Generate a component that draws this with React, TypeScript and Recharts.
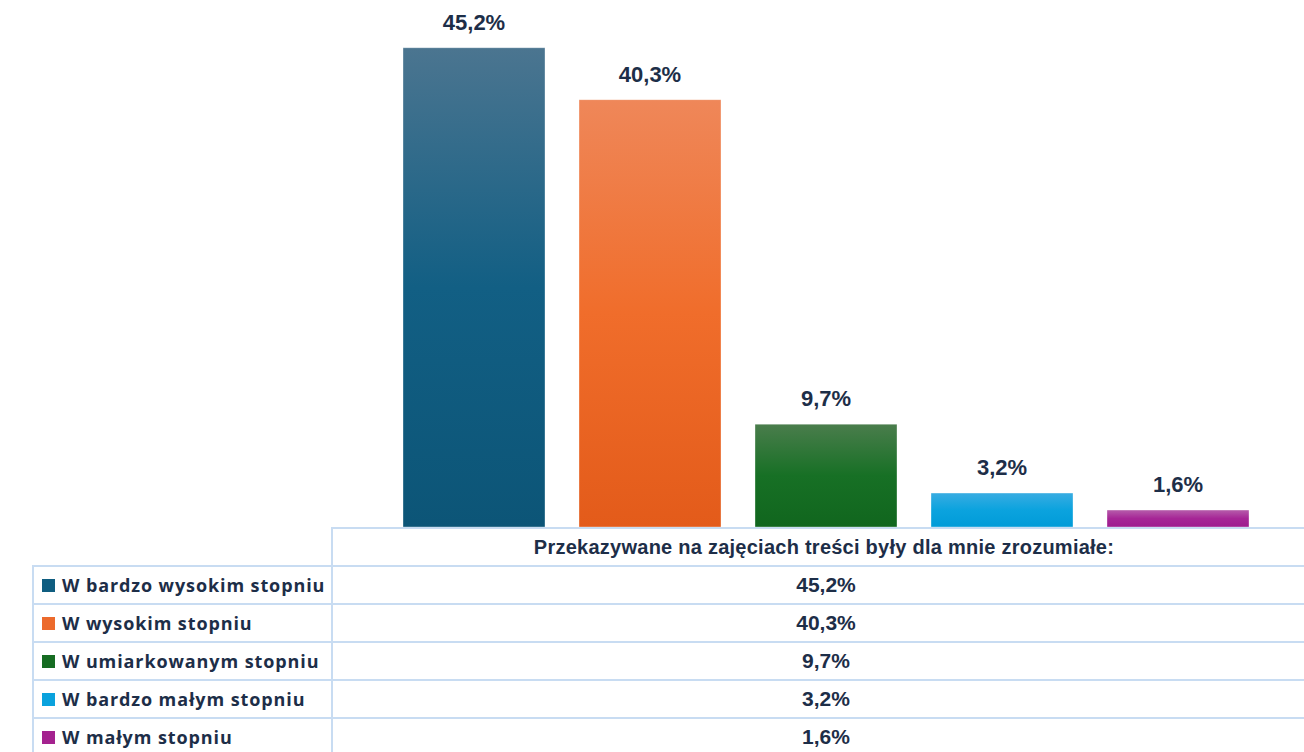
import { Bar, BarChart, LabelList, XAxis, YAxis } from "recharts";

const question = "Przekazywane na zajęciach treści były dla mnie zrozumiałe:";
const seriesKeys = ["s1", "s2", "s3", "s4", "s5"];
const seriesNames = [
  "W bardzo wysokim stopniu",
  "W wysokim stopniu",
  "W umiarkowanym stopniu",
  "W bardzo małym stopniu",
  "W małym stopniu",
];
const seriesValues = [45.2, 40.3, 9.7, 3.2, 1.6];
const seriesColors = ["#0f5d80", "#ec6a2c", "#166c22", "#0aa2dd", "#a4228f"];
// gradient stops: top, middle, bottom
const gradientStops = [
  ["#4b7590", "#125f84", "#0c5577"],
  ["#ef8759", "#f06d2b", "#e35b1a"],
  ["#4a7d4c", "#177025", "#11661e"],
  ["#38ace2", "#0ba3de", "#009bd8"],
  ["#b65cab", "#a62696", "#9e1c8e"],
];

const data = [
  seriesKeys.reduce(
    (row: any, k, i) => {
      row[k] = seriesValues[i];
      return row;
    },
    { name: question }
  ),
];

const fmt = (v: any) => `${Number(v).toFixed(1).replace(".", ",")}%`;

const textColor = "#1d2e48";
const gridColor = "#c8dcf2";

const App = () => {
  const rowTop = 566;
  const rowH = 38;

  return (
    <div
      style={{
        position: "absolute",
        left: 0,
        top: 0,
        width: 1304,
        height: 752,
        overflow: "hidden",
        background: "#fff",
      }}
    >
      <BarChart
        width={1304}
        height={528}
        data={data}
        margin={{ top: 18, right: -16, bottom: 1, left: 332 }}
        barSize={142}
        barGap={34}
      >
        <defs>
          {gradientStops.map((g, i) => (
            <linearGradient key={i} id={`grad${i}`} x1="0" y1="0" x2="0" y2="1">
              <stop offset="0%" stopColor={g[0]} />
              <stop offset="50%" stopColor={g[1]} />
              <stop offset="100%" stopColor={g[2]} />
            </linearGradient>
          ))}
        </defs>
        <XAxis dataKey="name" hide />
        <YAxis hide domain={[0, 48]} />
        {seriesKeys.map((k, i) => (
          <Bar
            key={k}
            dataKey={k}
            name={seriesNames[i]}
            fill={`url(#grad${i})`}
            stroke="rgba(255,255,255,0.35)"
            strokeWidth={1}
            isAnimationActive={false}
          >
            <LabelList
              dataKey={k}
              position="top"
              offset={18}
              formatter={fmt}
              fill={textColor}
              style={{
                fontFamily: "'Liberation Sans', Arial, sans-serif",
                fontWeight: 700,
                fontSize: 22,
              }}
            />
          </Bar>
        ))}
      </BarChart>

      {/* data table */}
      <div
        style={{
          position: "absolute",
          left: 331,
          top: 527,
          width: 1000,
          height: rowH,
          borderTop: `2px solid ${gridColor}`,
          borderLeft: `2px solid ${gridColor}`,
          boxSizing: "border-box",
          display: "flex",
          alignItems: "center",
          justifyContent: "center",
          paddingRight: 16,
          fontFamily: "'Liberation Sans', Arial, sans-serif",
          fontWeight: 700,
          fontSize: 20,
          letterSpacing: 0.25,
          color: textColor,
        }}
      >
        {question}
      </div>
      {seriesNames.map((n, i) => (
        <div key={n}>
          <div
            style={{
              position: "absolute",
              left: 32,
              top: rowTop - 1 + i * rowH,
              width: 300,
              height: rowH,
              borderTop: `2px solid ${gridColor}`,
              borderLeft: `2px solid ${gridColor}`,
              boxSizing: "border-box",
              display: "flex",
              alignItems: "center",
              fontFamily: "'Open Sans', sans-serif",
              fontWeight: 700,
              fontSize: 18,
              letterSpacing: 0.9,
              color: textColor,
              whiteSpace: "nowrap",
            }}
          >
            <span
              style={{
                display: "inline-block",
                width: 13,
                height: 13,
                marginLeft: 8,
                marginRight: 7,
                background: seriesColors[i],
              }}
            />
            {n}
          </div>
          <div
            style={{
              position: "absolute",
              left: 331,
              top: rowTop - 1 + i * rowH,
              width: 1000,
              height: rowH,
              borderTop: `2px solid ${gridColor}`,
              borderLeft: `2px solid ${gridColor}`,
              boxSizing: "border-box",
              display: "flex",
              alignItems: "center",
              justifyContent: "center",
              paddingRight: 12,
              fontFamily: "'Liberation Sans', Arial, sans-serif",
              fontWeight: 700,
              fontSize: 21,
              color: textColor,
            }}
          >
            {fmt(seriesValues[i])}
          </div>
        </div>
      ))}
    </div>
  );
};

export default App;
